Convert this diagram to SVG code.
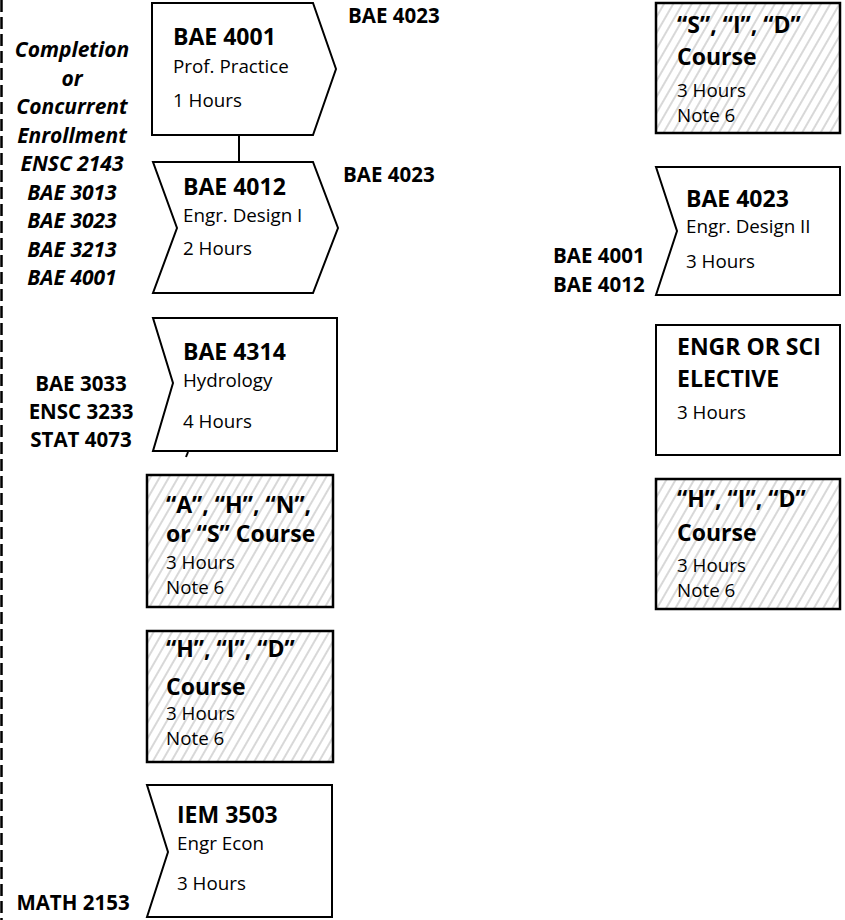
<svg xmlns="http://www.w3.org/2000/svg" width="845" height="920" viewBox="0 0 845 920">
<defs>
<pattern id="hatch" patternUnits="userSpaceOnUse" width="8" height="8" patternTransform="rotate(30)">
<rect width="8" height="8" fill="#ffffff"/>
<line x1="1" y1="0" x2="1" y2="8" stroke="#b8b8b8" stroke-width="1.1"/>
</pattern>
</defs>
<style>
text{font-family:"Open Sans","Liberation Sans",sans-serif;fill:#000}
.t{font-size:23px;font-weight:bold}
.r{font-size:18.8px}
.p{font-size:20.5px;font-weight:bold}
.pi{font-size:21px;font-weight:bold;font-style:italic;text-anchor:middle}
.pc{font-size:20.5px;font-weight:bold;text-anchor:middle}
.box{fill:#fff;stroke:#000;stroke-width:2}
.hb{fill:url(#hatch);stroke:#000;stroke-width:2.5}
.edge{stroke:#000;stroke-width:2;fill:none}
</style>
<rect width="845" height="920" fill="#fff"/>
<line x1="1.5" y1="0" x2="1.5" y2="920" stroke="#000" stroke-width="2.5" stroke-dasharray="12 5"/>

<g id="connectors">
<line class="edge" x1="239" y1="135" x2="239" y2="162"/>
<line class="edge" x1="188" y1="452" x2="186" y2="457"/>
</g>

<g id="labels">
<text class="pi" x="72" y="57">Completion</text>
<text class="pi" x="72" y="86">or</text>
<text class="pi" x="72" y="114">Concurrent</text>
<text class="pi" x="72" y="143">Enrollment</text>
<text class="pi" x="72" y="171">ENSC 2143</text>
<text class="pi" x="72" y="200">BAE 3013</text>
<text class="pi" x="72" y="228">BAE 3023</text>
<text class="pi" x="72" y="257">BAE 3213</text>
<text class="pi" x="72" y="285">BAE 4001</text>
<text class="p" x="348" y="23">BAE 4023</text>
<text class="p" x="343" y="182">BAE 4023</text>
<text class="pc" x="81" y="391">BAE 3033</text>
<text class="pc" x="81" y="419">ENSC 3233</text>
<text class="pc" x="81" y="447">STAT 4073</text>
<text class="pc" x="73" y="910">MATH 2153</text>
<text class="p" x="553" y="263">BAE 4001</text>
<text class="p" x="553" y="292">BAE 4012</text>
</g>

<g id="bae4001">
<path class="box" d="M152,3 H313 L336,69 L313,135 H152 Z"/>
<text class="t" x="173" y="45">BAE 4001</text>
<text class="r" x="173" y="73">Prof. Practice</text>
<text class="r" x="173" y="107">1 Hours</text>
</g>

<g id="bae4012">
<path class="box" d="M153,162 H313 L338,228 L313,293 H153 L177,228 Z"/>
<text class="t" x="183" y="195">BAE 4012</text>
<text class="r" x="183" y="222">Engr. Design I</text>
<text class="r" x="183" y="255">2 Hours</text>
</g>

<g id="bae4314">
<path class="box" d="M153,318 H337 V451 H153 L173,383 Z"/>
<text class="t" x="183" y="360">BAE 4314</text>
<text class="r" x="183" y="387">Hydrology</text>
<text class="r" x="183" y="428">4 Hours</text>
</g>

<g id="ahns">
<rect class="hb" x="147" y="475" width="186" height="132"/>
<text class="t" x="166" y="513">“A”, “H”, “N”,</text>
<text class="t" x="166" y="542">or “S” Course</text>
<text class="r" x="166" y="569">3 Hours</text>
<text class="r" x="166" y="594">Note 6</text>
</g>

<g id="hid-left">
<rect class="hb" x="147" y="631" width="186" height="131"/>
<text class="t" x="166" y="657">“H”, “I”, “D”</text>
<text class="t" x="166" y="695">Course</text>
<text class="r" x="166" y="720">3 Hours</text>
<text class="r" x="166" y="745">Note 6</text>
</g>

<g id="iem3503">
<path class="box" d="M147,785 H332 V917 H147 L168,852 Z"/>
<text class="t" x="177" y="823">IEM 3503</text>
<text class="r" x="177" y="850">Engr Econ</text>
<text class="r" x="177" y="890">3 Hours</text>
</g>

<g id="sid">
<rect class="hb" x="656" y="3" width="184" height="130"/>
<text class="t" x="677" y="33">“S”, “I”, “D”</text>
<text class="t" x="677" y="65">Course</text>
<text class="r" x="677" y="97">3 Hours</text>
<text class="r" x="677" y="122">Note 6</text>
</g>

<g id="bae4023">
<path class="box" d="M656,167 H840 V295 H656 L677,231 Z"/>
<text class="t" x="686" y="207">BAE 4023</text>
<text class="r" x="686" y="233">Engr. Design II</text>
<text class="r" x="686" y="268">3 Hours</text>
</g>

<g id="elective">
<rect class="box" x="656" y="325" width="184" height="130"/>
<text class="t" x="677" y="355">ENGR OR SCI</text>
<text class="t" x="677" y="387">ELECTIVE</text>
<text class="r" x="677" y="419">3 Hours</text>
</g>

<g id="hid-right">
<rect class="hb" x="656" y="479" width="184" height="130"/>
<text class="t" x="677" y="507">“H”, “I”, “D”</text>
<text class="t" x="677" y="541">Course</text>
<text class="r" x="677" y="572">3 Hours</text>
<text class="r" x="677" y="597">Note 6</text>
</g>
</svg>
